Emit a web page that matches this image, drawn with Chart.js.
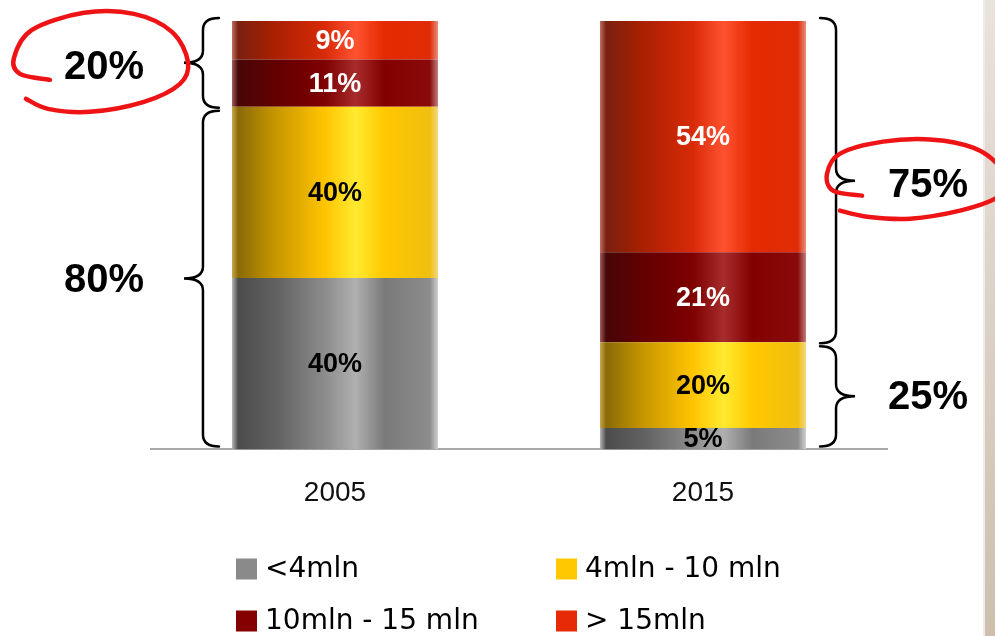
<!DOCTYPE html>
<html>
<head>
<meta charset="utf-8">
<script src="https://cdn.jsdelivr.net/npm/chart.js@4.4.1/dist/chart.umd.min.js"></script>
<style>
    html, body { margin: 0; padding: 0; background: #fff; }
    #wrap { width: 995px; height: 636px; }
</style>
</head>
<body>
<div id="wrap"><canvas id="chart" width="995" height="636"></canvas></div>
<script>
const years = ['2005', '2015'];
const seriesNames = ['<4mln', '4mln - 10 mln', '10mln - 15 mln', '> 15mln'];
const under4 = [40, 5];
const from4to10 = [40, 20];
const from10to15 = [11, 21];
const over15 = [9, 54];

const SERIES_COLORS = ['#8a8a8a', '#ffc800', '#850000', '#e62a06'];
const LABEL_COLORS = ['#000', '#000', '#fff', '#fff'];
const BAR_PCT = 0.56;
const RING_RED = '#ee1416';

// cylinder look: horizontal shading per series
const SHADES = [
    [[0, '#b8b8b8'], [0.03, '#4c4c4c'], [0.22, '#626262'], [0.45, '#8c8c8c'], [0.6, '#b0b0b0'], [0.74, '#7a7a7a'], [0.96, '#8c8c8c'], [1, '#d0d0d0']],
    [[0, '#c8a850'], [0.03, '#8a6a08'], [0.2, '#c49400'], [0.45, '#ffc400'], [0.6, '#ffea30'], [0.74, '#ffc800'], [0.96, '#f0bf10'], [1, '#f2d884']],
    [[0, '#a06060'], [0.03, '#480606'], [0.22, '#640000'], [0.45, '#7e0000'], [0.6, '#a82c2c'], [0.74, '#820000'], [0.96, '#8a0a0a'], [1, '#c08080']],
    [[0, '#c07060'], [0.03, '#7a2010'], [0.2, '#a82000'], [0.45, '#d82a08'], [0.6, '#ff5230'], [0.74, '#e42a00'], [0.96, '#e02c06'], [1, '#e89080']],
];

// hand drawn rings, offsets from the circled number
const RING_LEFT = [[-54, 14], [-84, 8], [-90, -8], [-72, -36], [-20, -53], [30, -52], [68, -34], [84, -4], [76, 18], [40, 36], [-14, 46], [-56, 43], [-78, 33]];
const RING_RIGHT = [[-66, 12], [-95, 7], [-101, -10], [-88, -30], [-45, -42], [5, -44], [45, -36], [69, -20], [78, -1], [69, 14], [32, 27], [-18, 35], [-61, 33], [-88, 27]];

function barFill(seriesIndex) {
    return (ctx) => {
        const xs = ctx.chart.scales.x;
        if (!xs || ctx.type !== 'data' || !ctx.chart.chartArea) return SERIES_COLORS[seriesIndex];
        const cx = xs.getPixelForValue(ctx.dataIndex);
        const half = xs.width / years.length * BAR_PCT / 2;
        if (!isFinite(cx) || !isFinite(half) || half <= 0) return SERIES_COLORS[seriesIndex];
        const g = ctx.chart.ctx.createLinearGradient(cx - half, 0, cx + half, 0);
        SHADES[seriesIndex].forEach(([o, c]) => g.addColorStop(o, c));
        return g;
    };
}

function smoothPath(ctx, pts) {
    ctx.beginPath();
    ctx.moveTo(pts[0][0], pts[0][1]);
    for (let i = 0; i < pts.length - 1; i++) {
        const p0 = pts[i - 1] || pts[i], p1 = pts[i], p2 = pts[i + 1], p3 = pts[i + 2] || p2;
        ctx.bezierCurveTo(
            p1[0] + (p2[0] - p0[0]) / 6, p1[1] + (p2[1] - p0[1]) / 6,
            p2[0] - (p3[0] - p1[0]) / 6, p2[1] - (p3[1] - p1[1]) / 6,
            p2[0], p2[1]);
    }
    ctx.stroke();
}

// curly brace, dir -1 = tip to the left, +1 = tip to the right
function drawBrace(ctx, stem, yTop, yBot, dir) {
    const hook = 16, tip = 19, r = 12;
    const mid = (yTop + yBot) / 2;
    ctx.beginPath();
    ctx.moveTo(stem - dir * hook, yTop);
    ctx.quadraticCurveTo(stem, yTop, stem, yTop + r);
    ctx.lineTo(stem, mid - r);
    ctx.quadraticCurveTo(stem, mid, stem + dir * tip, mid);
    ctx.quadraticCurveTo(stem, mid, stem, mid + r);
    ctx.lineTo(stem, yBot - r);
    ctx.quadraticCurveTo(stem, yBot, stem - dir * hook, yBot);
    ctx.stroke();
}

const decorations = {
    id: 'decorations',
    beforeDraw(chart) {
        const { ctx, width, height } = chart;
        ctx.save();
        const g = ctx.createLinearGradient(0, 0, 0, height);
        g.addColorStop(0, '#e9e3dd');
        g.addColorStop(1, '#cdbfac');
        ctx.fillStyle = '#eeebe8';
        ctx.fillRect(width - 12, 0, 2, height);
        ctx.fillStyle = g;
        ctx.fillRect(width - 10, 0, 10, height);
        ctx.restore();
    },
    afterDatasetsDraw(chart) {
        const { ctx } = chart;
        ctx.save();
        ctx.font = 'bold 27px "Liberation Sans", Arial, sans-serif';
        ctx.textAlign = 'center';
        ctx.textBaseline = 'middle';
        chart.data.datasets.forEach((ds, di) => {
            chart.getDatasetMeta(di).data.forEach((bar, i) => {
                ctx.fillStyle = LABEL_COLORS[di];
                ctx.fillText(ds.data[i] + '%', bar.x, (bar.y + bar.base) / 2 + 1);
            });
        });
        ctx.restore();
    },
    afterDraw(chart) {
        const { ctx } = chart;
        const ys = chart.scales.y;
        ctx.save();

        // braces with group totals: lower = under 10 mln, upper = over 10 mln
        years.forEach((_, i) => {
            const bar = chart.getDatasetMeta(0).data[i];
            const half = bar.width / 2;
            const lower = under4[i] + from4to10[i];
            const upper = from10to15[i] + over15[i];
            const dir = i === 0 ? -1 : 1;
            const stem = i === 0 ? bar.x - half - 29 : bar.x + half + 30;
            const yTop = ys.getPixelForValue(lower + upper) - 3;
            const ySplit = ys.getPixelForValue(lower);
            const yBot = ys.getPixelForValue(0) - 3;

            ctx.strokeStyle = '#000';
            ctx.lineWidth = 2.5;
            ctx.lineCap = 'round';
            drawBrace(ctx, stem, yTop, ySplit + 1, dir);
            drawBrace(ctx, stem, ySplit + 4, yBot, dir);

            const tx = stem + dir * (i === 0 ? 99 : 92);
            const upperY = (yTop + ySplit + 1) / 2 + 3;
            const lowerY = (ySplit + 4 + yBot) / 2;
            ctx.fillStyle = '#000';
            ctx.font = 'bold 40px "Liberation Sans", Arial, sans-serif';
            ctx.textAlign = 'center';
            ctx.textBaseline = 'middle';
            ctx.fillText(upper + '%', tx, upperY + 2);
            ctx.fillText(lower + '%', tx, lowerY + 2);

            ctx.strokeStyle = RING_RED;
            ctx.lineWidth = 4.5;
            const ring = i === 0 ? RING_LEFT : RING_RIGHT;
            smoothPath(ctx, ring.map(([dx, dy]) => [tx + dx, upperY + dy]));
        });

        // legend, two columns
        const cols = [236, 556], rows = [569, 621], box = 21;
        ctx.font = '28px "DejaVu Sans", sans-serif';
        ctx.textAlign = 'left';
        ctx.textBaseline = 'middle';
        seriesNames.forEach((name, i) => {
            const x = cols[i % 2], y = rows[Math.floor(i / 2)];
            ctx.fillStyle = SERIES_COLORS[i];
            ctx.fillRect(x, y - box / 2, box, box);
            ctx.fillStyle = '#000';
            ctx.fillText(name, x + box + 8, y + 1);
        });
        ctx.restore();
    }
};

const seriesValues = [under4, from4to10, from10to15, over15];

new Chart(document.getElementById('chart'), {
    type: 'bar',
    data: {
        labels: years,
        datasets: seriesNames.map((name, i) => ({
            label: name,
            data: seriesValues[i],
            backgroundColor: barFill(i),
            borderWidth: 0,
            barPercentage: BAR_PCT,
            categoryPercentage: 1,
        })),
    },
    options: {
        responsive: false,
        animation: false,
        devicePixelRatio: 1,
        layout: { padding: { left: 151, right: 108, top: 21, bottom: 99 } },
        plugins: {
            legend: { display: false },
            tooltip: { enabled: false },
        },
        scales: {
            x: {
                stacked: true,
                grid: { display: false, drawTicks: false },
                border: { display: true, color: '#a9a9a9', width: 2 },
                ticks: {
                    color: '#111',
                    padding: 27,
                    font: { family: '"Liberation Sans", Arial, sans-serif', size: 28 },
                },
            },
            y: {
                stacked: true,
                display: false,
                min: 0,
                max: 100,
            },
        },
    },
    plugins: [decorations],
});
</script>
</body>
</html>
